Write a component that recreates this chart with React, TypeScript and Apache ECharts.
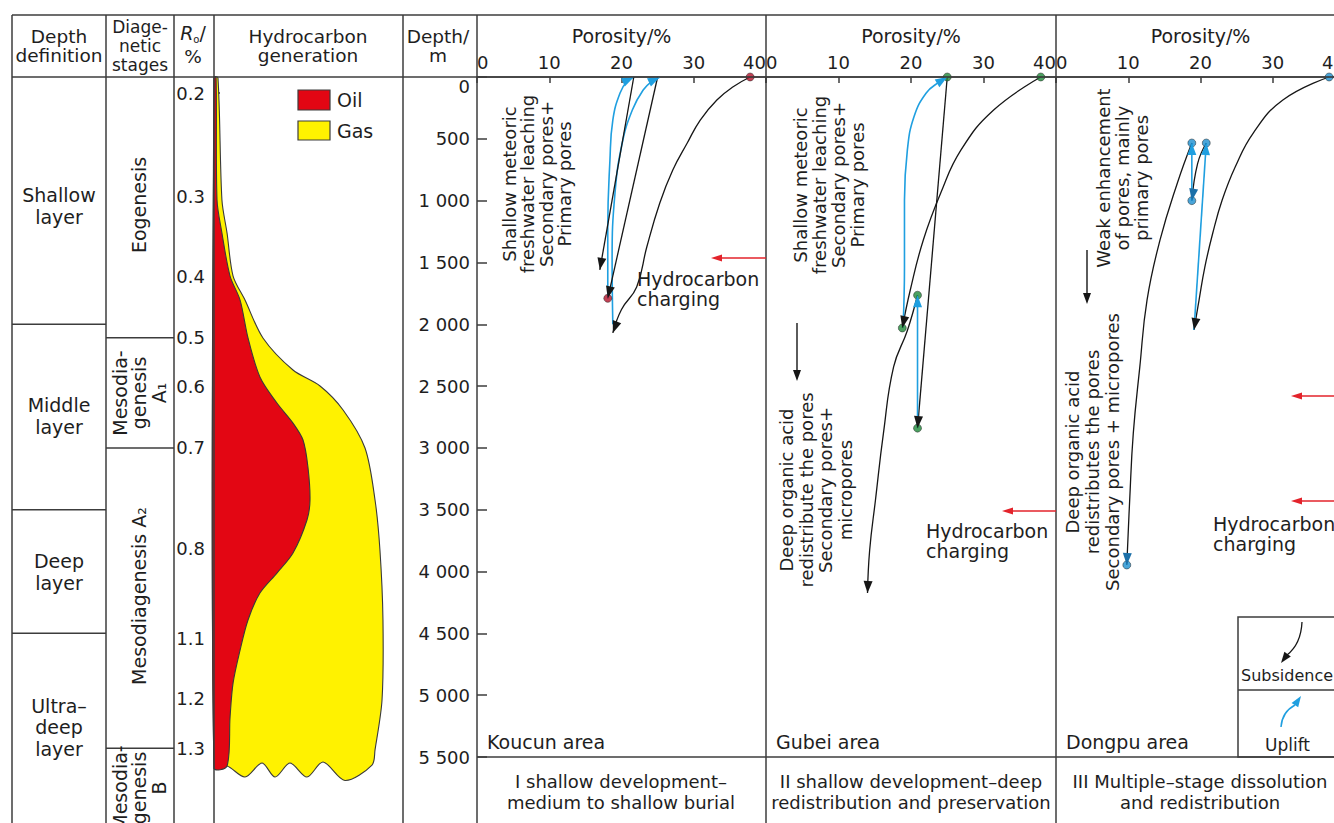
import React, { useEffect, useRef } from 'react';
import * as echarts from 'echarts';

const W = 1334;
const H = 823;
const FONT = 'DejaVu Sans';
const INK = '#1e1e1e';
const RULE = '#3c3c3c';
const BLACK = '#161616';
const BLUE = '#1f9fe0';
const DARKBLUE = '#1b6fa8';
const RED_DOT = '#b3122a';
const GREEN_DOT = '#1f8a3a';
const BLUE_DOT = '#1c8fd0';
const CHARGE_RED = '#e3232b';

// ---------- shared depth scale ----------
const DEPTH_MAX = 5500;
const DEPTH_INTERVAL = 500;
const PANEL_TOP = 77;
const PANEL_H = 680;
const HC_H = 746;
const HC_DEPTH_MAX = (DEPTH_MAX * HC_H) / PANEL_H;
const yOf = (d: number) => PANEL_TOP + (d * PANEL_H) / DEPTH_MAX;

// ---------- Ro scale (vitrinite reflectance vs depth) ----------
const roLabels = ['0.2', '0.3', '0.4', '0.5', '0.6', '0.7', '0.8', '1.1', '1.2', '1.3'];
const roDepths = [130, 970, 1610, 2110, 2500, 3000, 3815, 4540, 5030, 5430];

// ---------- left table ----------
const layerNames = ['Shallow\nlayer', 'Middle\nlayer', 'Deep\nlayer', 'Ultra–\ndeep\nlayer'];
const layerBoundaries = [2000, 3500, 4500];
const stageNames = ['Eogenesis', 'Mesodia-\ngenesis\nA₁', 'Mesodiagenesis A₂', 'Mesodia-\ngenesis\nB'];
const stageBoundaries = [2110, 3000, 5430];

// ---------- hydrocarbon generation (relative amount 0-100, depth m) ----------
const gasOuter = [
  [2.1, 8], [4.2, 995], [6.9, 1262], [10.1, 1610], [16.4, 1804], [25.9, 2111], [41.8, 2370],
  [56.1, 2499], [68.3, 2693], [79.9, 3001], [85.2, 3421], [87.8, 3826], [89.4, 4392],
  [88.9, 5039], [85.2, 5443], [83.6, 5565],
];
const gasBottom = [
  [69.3, 5690], [57.7, 5540], [49.2, 5662], [40.2, 5549], [32.3, 5662], [25.4, 5549],
  [16.4, 5662], [6.9, 5573],
];
const oilInner = [
  [1.1, 8], [1.6, 995], [4.2, 1262], [8.5, 1610], [13.8, 1804], [18.0, 2111], [24.3, 2426],
  [33.3, 2637], [41.8, 2799], [47.1, 2936], [49.7, 3154], [50.8, 3421], [49.2, 3583],
  [41.8, 3850], [33.3, 4012], [24.3, 4174], [18.0, 4392], [13.8, 4635], [10.1, 4901],
  [8.5, 5176], [6.9, 5573],
];
const hcBase = 5590;

// ---------- porosity evolution paths [porosity %, depth m] ----------
// Koucun
const koucunBurial1 = [[37.8, 0], [35.4, 81], [33.2, 186], [30.9, 348], [29.1, 534], [27.1, 752], [25.3, 1019], [23.5, 1375], [22.1, 1698], [20.0, 1880], [18.8, 2070]];
const koucunUplift1 = [[18.8, 2000], [18.7, 1480], [19.1, 938], [20.1, 534], [21.5, 267], [23.0, 105], [24.3, 30], [25.3, 2]];
const koucunBurial2 = [[25.0, 0], [18.1, 1790]];
const koucunUplift2 = [[18.1, 1790], [18.1, 1213], [18.4, 671], [18.8, 348], [19.8, 129], [20.9, 24], [21.7, 2]];
const koucunBurial3 = [[21.7, 0], [17.0, 1560]];
const koucunDots = [[37.8, 0], [18.1, 1790]];
// Gubei
const gubeiBurial1 = [[37.9, 0], [31.4, 267], [26.9, 590], [24.1, 938], [21.7, 1318], [19.9, 1723], [18.8, 2030]];
const gubeiUplift1 = [[18.9, 2030], [19.1, 1537], [19.1, 995], [19.5, 590], [20.4, 323], [22.1, 129], [23.9, 40], [25.0, 0]];
const gubeiBurial2 = [[25.0, 0], [20.9, 2840]];
const gubeiUplift2 = [[20.9, 2840], [20.9, 1765]];
const gubeiBurial3 = [[20.9, 1765], [19.5, 2050], [17.6, 2345], [16.2, 2880], [15.1, 3421], [14.3, 3826], [14.0, 4173]];
const gubeiDots = [[37.9, 0], [25.0, 0], [18.8, 2030], [20.9, 1765], [20.9, 2840]];
// Dongpu
const dongpuBurial1 = [[37.8, 0], [31.4, 186], [27.3, 453], [24.8, 728], [23.0, 995], [21.7, 1262], [20.6, 1537], [19.8, 1804], [19.1, 2046]];
const dongpuUplift1 = [[19.1, 2046], [20.8, 534]];
const dongpuBurial2 = [[20.8, 534], [19.6, 700], [18.8, 1000]];
const dongpuUplift2 = [[18.8, 1000], [18.8, 534]];
const dongpuBurial3 = [[18.8, 534], [16.8, 857], [14.4, 1318], [12.6, 1804], [11.6, 2345], [10.7, 2880], [10.2, 3421], [9.8, 3947]];
const dongpuDots = [[37.8, 0], [18.8, 534], [20.8, 534], [18.8, 1000], [9.8, 3947]];

const areaNames = ['Koucun area', 'Gubei area', 'Dongpu area'];
const modeNames = [
  'I shallow development–\nmedium to shallow burial',
  'II shallow development–deep\nredistribution and preservation',
  'III Multiple–stage dissolution\nand redistribution',
];

const ARROW_COLORS = [BLACK, BLUE, DARKBLUE];

type PathDef = { data: number[][]; color: string; smooth: boolean; head: number };

const panels: { paths: PathDef[]; dots: number[][]; dotColor: string }[] = [
  {
    paths: [
      { data: koucunBurial1, color: BLACK, smooth: true, head: 0 },
      { data: koucunUplift1, color: BLUE, smooth: true, head: 1 },
      { data: koucunBurial2, color: BLACK, smooth: false, head: 0 },
      { data: koucunUplift2, color: BLUE, smooth: true, head: 1 },
      { data: koucunBurial3, color: BLACK, smooth: false, head: 0 },
    ],
    dots: koucunDots,
    dotColor: RED_DOT,
  },
  {
    paths: [
      { data: gubeiBurial1, color: BLACK, smooth: true, head: 0 },
      { data: gubeiUplift1, color: BLUE, smooth: true, head: 1 },
      { data: gubeiBurial2, color: BLACK, smooth: false, head: 0 },
      { data: gubeiUplift2, color: BLUE, smooth: false, head: 1 },
      { data: gubeiBurial3, color: BLACK, smooth: true, head: 0 },
    ],
    dots: gubeiDots,
    dotColor: GREEN_DOT,
  },
  {
    paths: [
      { data: dongpuBurial1, color: BLACK, smooth: true, head: 0 },
      { data: dongpuUplift1, color: BLUE, smooth: false, head: 1 },
      { data: dongpuBurial2, color: BLACK, smooth: true, head: 2 },
      { data: dongpuUplift2, color: BLUE, smooth: false, head: 1 },
      { data: dongpuBurial3, color: BLACK, smooth: true, head: 2 },
    ],
    dots: dongpuDots,
    dotColor: BLUE_DOT,
  },
];

// ---------- graphic helpers ----------
const gLine = (x1: number, y1: number, x2: number, y2: number, color = RULE, w = 1.5) => ({
  type: 'line', silent: true, z: 10,
  shape: { x1, y1, x2, y2 },
  style: { stroke: color, lineWidth: w },
});
const gText = (x: number, y: number, text: string, o: any = {}) => ({
  type: 'text', silent: true, z: 10, x, y, rotation: o.rot || 0,
  style: {
    text, fill: INK, fontFamily: FONT, fontSize: o.size || 19, fontStyle: o.italic ? 'italic' : 'normal',
    align: o.align || 'center', verticalAlign: o.va || 'middle', lineHeight: o.lh || 20,
    ...(o.rich ? { rich: o.rich } : {}),
  },
});
const gHead = (tx: number, ty: number, ang: number, color: string, L = 11, Wd = 4) => {
  const bx = tx - L * Math.cos(ang);
  const by = ty - L * Math.sin(ang);
  const nx = -Math.sin(ang);
  const ny = Math.cos(ang);
  return {
    type: 'polygon', silent: true, z: 10,
    shape: { points: [[tx, ty], [bx + Wd * nx, by + Wd * ny], [bx - Wd * nx, by - Wd * ny]] },
    style: { fill: color },
  };
};

function buildGraphic() {
  const els: any[] = [];
  // frame
  els.push(gLine(12, 15, W, 15));
  els.push(gLine(12, 77, W, 77));
  [12, 106, 174, 214, 403, 477, 766, 1056].forEach((x) => els.push(gLine(x, 15, x, H)));
  layerBoundaries.forEach((d) => els.push(gLine(12, yOf(d), 106, yOf(d))));
  stageBoundaries.forEach((d) => els.push(gLine(106, yOf(d), 174, yOf(d))));
  els.push(gLine(477, 757, W, 757));

  // headers
  els.push(gText(59, 46, 'Depth\ndefinition', { size: 18.5, lh: 19 }));
  els.push(gText(140, 45.5, 'Diage-\nnetic\nstages', { size: 17, lh: 19 }));
  els.push(gText(193, 33, '{r|R}{o|o}{s|/}', {
    size: 19, lh: 22,
    rich: {
      r: { fontStyle: 'italic', fontSize: 19, fontFamily: FONT, fill: INK, lineHeight: 22, verticalAlign: 'middle' },
      o: { fontSize: 10, fontFamily: FONT, fill: INK, lineHeight: 22, verticalAlign: 'bottom' },
      s: { fontSize: 19, fontFamily: FONT, fill: INK, lineHeight: 22, verticalAlign: 'middle' },
    },
  }));
  els.push(gText(193, 56, '%', { size: 18.5 }));
  els.push(gText(308, 46, 'Hydrocarbon\ngeneration', { size: 18.5, lh: 19 }));
  els.push(gText(438, 46, 'Depth/\nm', { size: 18.5, lh: 19 }));

  // layer & stage names
  const layerY = [206, 416, 572, 727];
  layerNames.forEach((t, i) => els.push(gText(59, layerY[i], t, { lh: 21.5 })));
  const stageY = [205, 393, 596, 788];
  stageNames.forEach((t, i) => els.push(gText(139, stageY[i], t, { rot: Math.PI / 2, lh: 19.5 })));

  // legend (oil/gas)
  els.push({ type: 'rect', silent: true, z: 10, shape: { x: 298, y: 90, width: 32, height: 20 }, style: { fill: '#e30613', stroke: RULE, lineWidth: 1.2 } });
  els.push({ type: 'rect', silent: true, z: 10, shape: { x: 298, y: 121, width: 32, height: 19 }, style: { fill: '#fff200', stroke: RULE, lineWidth: 1.2 } });
  els.push(gText(337, 100, 'Oil', { align: 'left' }));
  els.push(gText(337, 131, 'Gas', { align: 'left' }));

  // panel annotations
  const upper = 'Shallow meteoric\nfreshwater leaching\nSecondary pores+\nPrimary pores';
  els.push(gText(537, 184, upper, { rot: Math.PI / 2, size: 18, lh: 18.5 }));
  els.push(gText(829, 185, upper, { rot: Math.PI / 2, size: 18, lh: 19 }));
  els.push(gText(816, 490, 'Deep organic acid\nredistribute the pores\nSecondary pores+\nmicropores', { rot: Math.PI / 2, size: 18, lh: 19.5 }));
  els.push(gText(1122, 178, 'Weak enhancement\nof pores, mainly\nprimary pores', { rot: Math.PI / 2, size: 18, lh: 19 }));
  els.push(gText(1092, 452, 'Deep organic acid\nredistributes the pores\nSecondary pores + micropores', { rot: Math.PI / 2, size: 18, lh: 20 }));

  // hydrocarbon charging
  els.push(gText(637, 289, 'Hydrocarbon\ncharging', { align: 'left', lh: 19.5 }));
  els.push(gText(926, 541, 'Hydrocarbon\ncharging', { align: 'left', lh: 19.5 }));
  els.push(gText(1213, 534, 'Hydrocarbon\ncharging', { align: 'left', lh: 20.5 }));
  [[766, 258, 711], [1056, 511, 1002], [W, 396, 1291], [W, 501, 1291]].forEach(([x1, y, tip]) => {
    els.push(gLine(x1, y, tip + 8, y, CHARGE_RED, 1.4));
    els.push(gHead(tip, y, Math.PI, CHARGE_RED, 11, 3.5));
  });

  // short black burial arrows
  els.push(gLine(797, 323, 797, 372, BLACK, 1.4));
  els.push(gHead(797, 381, Math.PI / 2, BLACK));
  els.push(gLine(1087, 250, 1087, 295, BLACK, 1.4));
  els.push(gHead(1087, 304, Math.PI / 2, BLACK));

  // area names and mode captions
  [487, 776, 1066].forEach((x, i) => els.push(gText(x, 742, areaNames[i], { align: 'left', size: 19 })));
  [621, 911, 1200].forEach((x, i) => els.push(gText(x, 792, modeNames[i], { size: 18, lh: 21 })));

  // subsidence / uplift key
  els.push({ type: 'rect', silent: true, z: 10, shape: { x: 1238, y: 617, width: 120, height: 140 }, style: { fill: 'none', stroke: RULE, lineWidth: 1.5 } });
  els.push(gLine(1238, 690, W, 690));
  els.push(gText(1241, 675, 'Subsidence', { align: 'left', size: 16 }));
  els.push(gText(1265, 745, 'Uplift', { align: 'left', size: 17 }));
  els.push({ type: 'bezierCurve', silent: true, z: 10, shape: { x1: 1302, y1: 622, cpx1: 1301, cpy1: 644, x2: 1287, y2: 655 }, style: { stroke: BLACK, lineWidth: 1.3, fill: 'none' } });
  els.push(gHead(1281, 663, Math.atan2(12, -9), BLACK, 11, 4));
  els.push({ type: 'bezierCurve', silent: true, z: 10, shape: { x1: 1281, y1: 727, cpx1: 1282, cpy1: 712, x2: 1295, y2: 705 }, style: { stroke: BLUE, lineWidth: 1.5, fill: 'none' } });
  els.push(gHead(1301, 696, Math.atan2(-9, 6), BLUE, 11, 4));
  return els;
}

function depthLabel(v: number) {
  if (v < 1000) return String(v);
  return `${Math.floor(v / 1000)} ${String(v % 1000).padStart(3, '0')}`;
}

function roLabel(v: number) {
  const i = roDepths.findIndex((d) => Math.abs(d - v) < 1);
  return i >= 0 ? roLabels[i] : '';
}

function buildOption() {
  const panelLefts = [477, 766, 1056];
  const panelWidths = [289, 290, 289];
  const grid: any[] = [{ left: 214, top: PANEL_TOP, width: 189, height: HC_H, outerBoundsMode: 'none', containLabel: false }];
  panelLefts.forEach((l, i) => grid.push({ left: l, top: PANEL_TOP, width: panelWidths[i], height: PANEL_H, outerBoundsMode: 'none', containLabel: false }));

  const axisLineStyle = { color: RULE, width: 1.5 };
  const xAxis: any[] = [{ gridIndex: 0, type: 'value', min: 0, max: 100, show: false }];
  const yAxis: any[] = [{
    gridIndex: 0, type: 'value', inverse: true, min: 0, max: HC_DEPTH_MAX,
    axisLine: { show: false }, splitLine: { show: false },
    axisTick: { show: true, inside: true, length: 6, lineStyle: axisLineStyle, customValues: roDepths },
    axisLabel: { show: true, customValues: roDepths, formatter: roLabel, margin: 9, fontSize: 18, fontFamily: FONT, color: INK },
  }];
  [1, 2, 3].forEach((k) => {
    xAxis.push({
      gridIndex: k, type: 'value', position: 'top', min: 0, max: 40, interval: 10,
      name: 'Porosity/%', nameLocation: 'middle', nameGap: 32,
      nameTextStyle: { fontSize: 19, fontFamily: FONT, color: INK },
      axisLine: { show: true, lineStyle: axisLineStyle },
      axisTick: { show: true, inside: true, length: 6, lineStyle: axisLineStyle },
      axisLabel: { fontSize: 18, fontFamily: FONT, color: INK, margin: 6, alignMinLabel: 'left', alignMaxLabel: 'right' },
      splitLine: { show: false },
    });
    yAxis.push({
      gridIndex: k, type: 'value', inverse: true, min: 0, max: DEPTH_MAX, interval: DEPTH_INTERVAL,
      axisLine: { show: false }, splitLine: { show: false },
      axisTick: { show: k === 1, inside: true, length: 10, lineStyle: axisLineStyle },
      axisLabel: { show: k === 1, formatter: depthLabel, margin: 7, fontSize: 18, fontFamily: FONT, color: INK, verticalAlignMinLabel: 'top' },
    });
  });

  const series: any[] = [];
  const gasPoly = [[0, 0], ...gasOuter, ...gasBottom, [0, hcBase]];
  const oilPoly = [[0, 0], ...oilInner, [0, hcBase]];
  [[gasPoly, '#fff200'], [oilPoly, '#e30613']].forEach(([poly, fill]: any) => {
    series.push({
      type: 'custom', xAxisIndex: 0, yAxisIndex: 0, clip: false, silent: true, z: 2,
      data: [[0, 0]],
      renderItem: (_p: any, api: any) => ({
        type: 'polygon',
        shape: { points: poly.map((pt: number[]) => api.coord(pt)), smooth: 0.3 },
        style: { fill, stroke: '#3a3a3a', lineWidth: 1.1 },
      }),
    });
  });

  panels.forEach((panel, pi) => {
    const k = pi + 1;
    panel.paths.forEach((p) => {
      series.push({
        type: 'line', xAxisIndex: k, yAxisIndex: k, data: p.data, smooth: p.smooth ? 0.45 : false,
        showSymbol: false, symbol: 'none', clip: false, silent: true, z: 3,
        lineStyle: { color: p.color, width: p.color === BLUE ? 1.6 : 1.3 },
      });
    });
    const arrowRows = panel.paths.map((p) => {
      const a = p.data[p.data.length - 2];
      const b = p.data[p.data.length - 1];
      return [a[0], a[1], b[0], b[1], p.head];
    });
    series.push({
      type: 'scatter', xAxisIndex: k, yAxisIndex: k, data: panel.dots, symbol: 'circle', symbolSize: 8,
      clip: false, silent: true, z: 4,
      itemStyle: { color: panel.dotColor, borderColor: '#222', borderWidth: 0.6 },
    });
    series.push({
      type: 'custom', xAxisIndex: k, yAxisIndex: k, clip: false, silent: true, z: 5,
      data: arrowRows,
      renderItem: (_p: any, api: any) => {
        const a = api.coord([api.value(0), api.value(1)]);
        const b = api.coord([api.value(2), api.value(3)]);
        const ang = Math.atan2(b[1] - a[1], b[0] - a[0]);
        const L = 12;
        const Wd = 4.5;
        const bx = b[0] - L * Math.cos(ang);
        const by = b[1] - L * Math.sin(ang);
        const nx = -Math.sin(ang);
        const ny = Math.cos(ang);
        return {
          type: 'polygon',
          shape: { points: [[b[0], b[1]], [bx + Wd * nx, by + Wd * ny], [bx - Wd * nx, by - Wd * ny]] },
          style: { fill: ARROW_COLORS[api.value(4)] },
        };
      },
    });
  });

  return {
    animation: false,
    backgroundColor: '#ffffff',
    grid, xAxis, yAxis, series,
    graphic: { elements: buildGraphic() },
  };
}

export default function App() {
  const ref = useRef<HTMLDivElement>(null);
  useEffect(() => {
    if (!ref.current) return;
    const chart = echarts.init(ref.current, null, { renderer: 'svg', width: W, height: H });
    chart.setOption(buildOption() as any);
    return () => chart.dispose();
  }, []);
  return <div ref={ref} style={{ position: 'absolute', left: 0, top: 0, width: W, height: H, background: '#fff' }} />;
}
